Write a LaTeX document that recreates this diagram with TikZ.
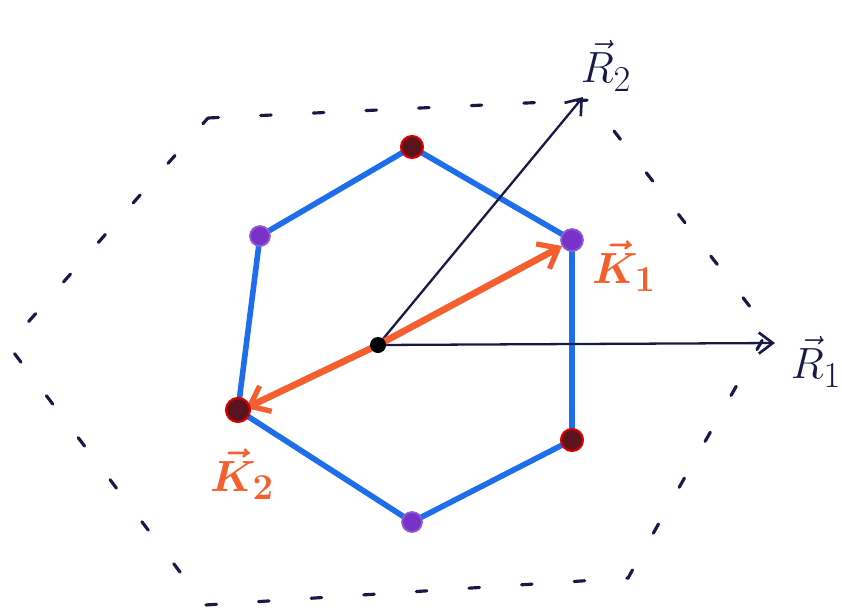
\documentclass[tikz,border=0pt]{standalone}
\usepackage{amsmath,amssymb}
\usetikzlibrary{arrows.meta,positioning}
\definecolor{bzblue}{RGB}{30,110,235}
\definecolor{korange}{RGB}{245,95,45}
\definecolor{ink}{RGB}{25,25,70}
\definecolor{dotred}{RGB}{90,20,30}
\definecolor{dotpurple}{RGB}{120,50,200}
\tikzset{
  zone/.style={ink,line width=1.8pt,line cap=round,dash pattern=on 6pt off 24pt},
  bzedge/.style={bzblue,line width=3.2pt,line join=round},
  kvec/.style={korange,line width=3.8pt,-{Straight Barb[length=10pt,width=16pt,line width=3pt]}},
  rvec/.style={ink,line width=1.3pt,-{Straight Barb[length=8pt,width=12pt,line width=1.5pt]}},
  kdot/.style={fill=dotred,draw=red!85!black,line width=1.2pt},
  mdot/.style={fill=dotpurple,draw=dotpurple!80,line width=1pt},
  vlabel/.style={font=\fontsize{30}{34}\selectfont}
}
\begin{document}
\begin{tikzpicture}[x=0.02cm,y=-0.02cm]
\useasboundingbox (0,0) rectangle (842,613);
% outer zone (dashed)
\coordinate (w0) at (208,118);
\coordinate (w1) at (590,100);
\coordinate (w2) at (768,330);
\coordinate (w3) at (628,578);
\coordinate (w4) at (205,605);
\coordinate (w5) at (8,345);
\draw[zone] (w0)--(w1)--(w2)--(w3)--(w4)--(w5)--cycle;
% first zone
\coordinate (v0) at (412,147);
\coordinate (v1) at (572,240);
\coordinate (v2) at (572,440);
\coordinate (v3) at (412,522);
\coordinate (v4) at (238,410);
\coordinate (v5) at (260,236);
\coordinate (o) at (378,345);
\draw[bzedge] (v0)--(v1)--(v2)--(v3)--(v4)--(v5)--cycle;
% reciprocal vectors
\coordinate (r1) at (775,343);
\coordinate (r2) at (583,97);
\draw[rvec] (o)--(r1);
\draw[rvec] (o)--(r2);
\coordinate (k1) at (562,246);
\coordinate (k2) at (246,408);
\draw[kvec] (o)--(k1);
\draw[kvec] (o)--(k2);
% corners
\fill[kdot] (v0) circle (11);
\fill[mdot] (v1) circle (11);
\fill[kdot] (v2) circle (11);
\fill[mdot] (v3) circle (10);
\fill[kdot] (v4) circle (12);
\fill[mdot] (v5) circle (10);
\fill[black] (o) circle (8);
% labels
\node[vlabel,ink] (lr1) at (816,362) {$\vec{R}_1$};
\node[vlabel,ink] (lr2) at (606,66) {$\vec{R}_2$};
\node[vlabel,korange] (lk1) at (624,266) {$\boldsymbol{\vec{K}_1}$};
\node[vlabel,korange] (lk2) at (242,474) {$\boldsymbol{\vec{K}_2}$};
\end{tikzpicture}
\end{document}
